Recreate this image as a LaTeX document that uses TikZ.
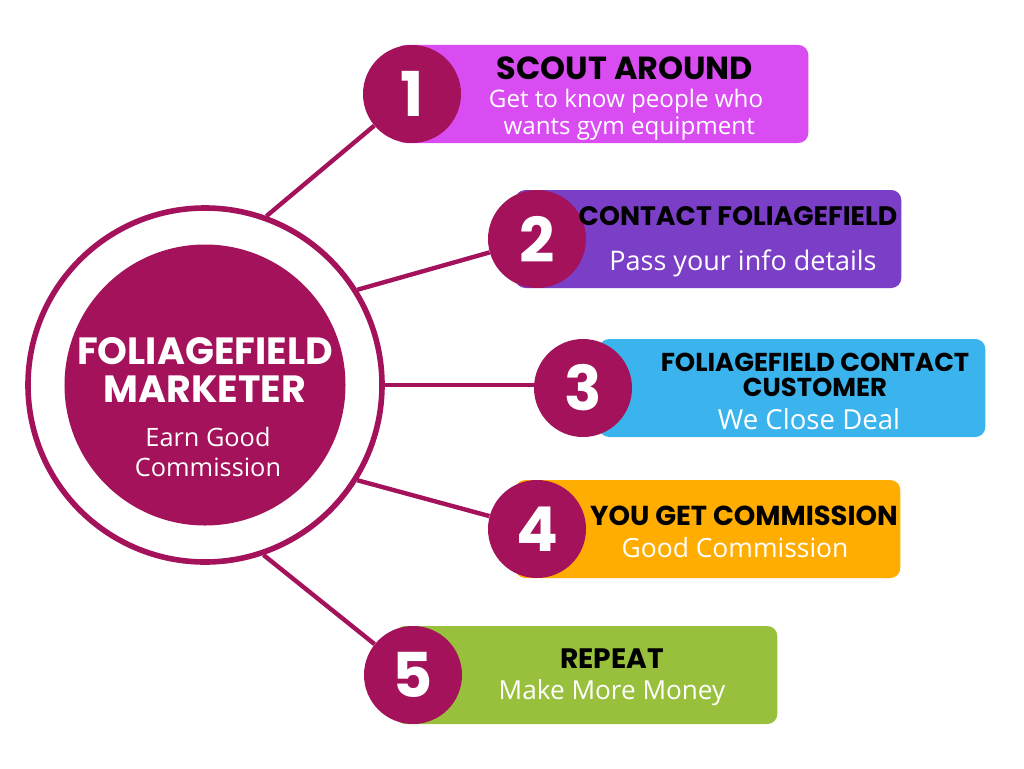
\documentclass[tikz,border=0pt]{standalone}
\usepackage{fontspec}
\setmainfont{Open Sans}
\newfontfamily\headfont{Poppins}
\usetikzlibrary{backgrounds}
\definecolor{berry}{HTML}{A3125A}
\definecolor{scoutpink}{HTML}{D94CF2}
\definecolor{contactpurple}{HTML}{7B3EC6}
\definecolor{closeblue}{HTML}{3BB4EE}
\definecolor{payorange}{HTML}{FFAD00}
\definecolor{repeatgreen}{HTML}{98C03C}
\tikzset{numdot/.style={
		circle,
		fill=berry,
		minimum size=24.5mm,
		inner sep=0pt,
		text=white,
		font=\headfont\bfseries\fontsize{44}{44}\selectfont}
	}
\tikzset{stepbox/.style={
		rounded corners=2.5mm,
		minimum height=24.5mm,
		inner sep=0pt,
		anchor=west}
	}
\tikzset{headtext/.style={
		align=center,
		inner sep=0pt,
		text=black,
		font=\headfont\bfseries\fontsize{#1}{#1}\selectfont}
	}
\tikzset{bodytext/.style={
		align=center,
		inner sep=0pt,
		text=white,
		font=\fontsize{#1}{19}\selectfont},
	bodytext/.default=18.5
	}
\tikzset{spoke/.style={draw=berry, line width=1.1mm}}

\begin{document}
\begin{tikzpicture}[x=0.25mm,y=-0.25mm]
			\useasboundingbox (0,0) rectangle (1024,768);
			% hub
			\node [circle, draw=berry, line width=1.4mm, minimum size=88.5mm, inner sep=0pt] (ring) at (205,385) {};
			\node [circle, fill=berry, minimum size=70.25mm, inner sep=0pt] (hub) at (205,385) {};
			\node [headtext=27, text=white] (hubtitle) at (205,370) {FOLIAGEFIELD\\[0pt]MARKETER};
			\node [bodytext, font=\fontsize{18}{21.5}\selectfont] (hubtext) at (208,452) {Earn Good\\Commission};
			% boxes
			\node [stepbox, fill=scoutpink, minimum width=103.25mm] (box1) at (395,94) {};
			\node [stepbox, fill=contactpurple, minimum width=96.5mm] (box2) at (515,239) {};
			\node [stepbox, fill=closeblue, minimum width=96.5mm] (box3) at (599,388) {};
			\node [stepbox, fill=payorange, minimum width=96.25mm] (box4) at (515,529) {};
			\node [stepbox, fill=repeatgreen, minimum width=95.5mm] (box5) at (395,675) {};
			% numbers
			\node [numdot] (num1) at (412,94) {1};
			\node [numdot] (num2) at (537,239) {2};
			\node [numdot] (num3) at (583,388) {3};
			\node [numdot] (num4) at (537,529) {4};
			\node [numdot] (num5) at (413,675) {5};
			% spokes
			\begin{pgfonlayer}{background}
				\fill [white] (0,0) rectangle (1024,768);
				\draw [spoke] (ring.70) -- (num1);
				\draw [spoke] (ring.32) -- (num2);
				\draw [spoke] (ring.0) -- (ring.0 -| num3);
				\draw [spoke] (ring.-32) -- (num4);
				\draw [spoke] (ring.-71) -- (num5);
			\end{pgfonlayer}
			% texts
			\node [headtext=22.7] (head1) at (625,68) {SCOUT AROUND};
			\node [bodytext=17.2] (text1) at (626,115) {Get to know people who\\ \ wants gym equipment};
			\node [headtext=19] (head2) at (738,216) {CONTACT FOLIAGEFIELD};
			\node [bodytext=19.2] (text2) at (743,263) {Pass your info details};
			\node [headtext=18.4, font=\headfont\bfseries\fontsize{18.4}{17.5}\selectfont] (head3) at (815,375) {FOLIAGEFIELD CONTACT\\CUSTOMER};
			\node [bodytext=19.6] (text3) at (809,419) {We Close Deal};
			\node [headtext=19.5] (head4) at (744,516) {YOU GET COMMISSION};
			\node [bodytext=18.8] (text4) at (735,548) {Good Commission};
			\node [headtext=20] (head5) at (612,659) {REPEAT};
			\node [bodytext=18.6] (text5) at (612,693) {Make More Money};
		\end{tikzpicture}
\end{document}
